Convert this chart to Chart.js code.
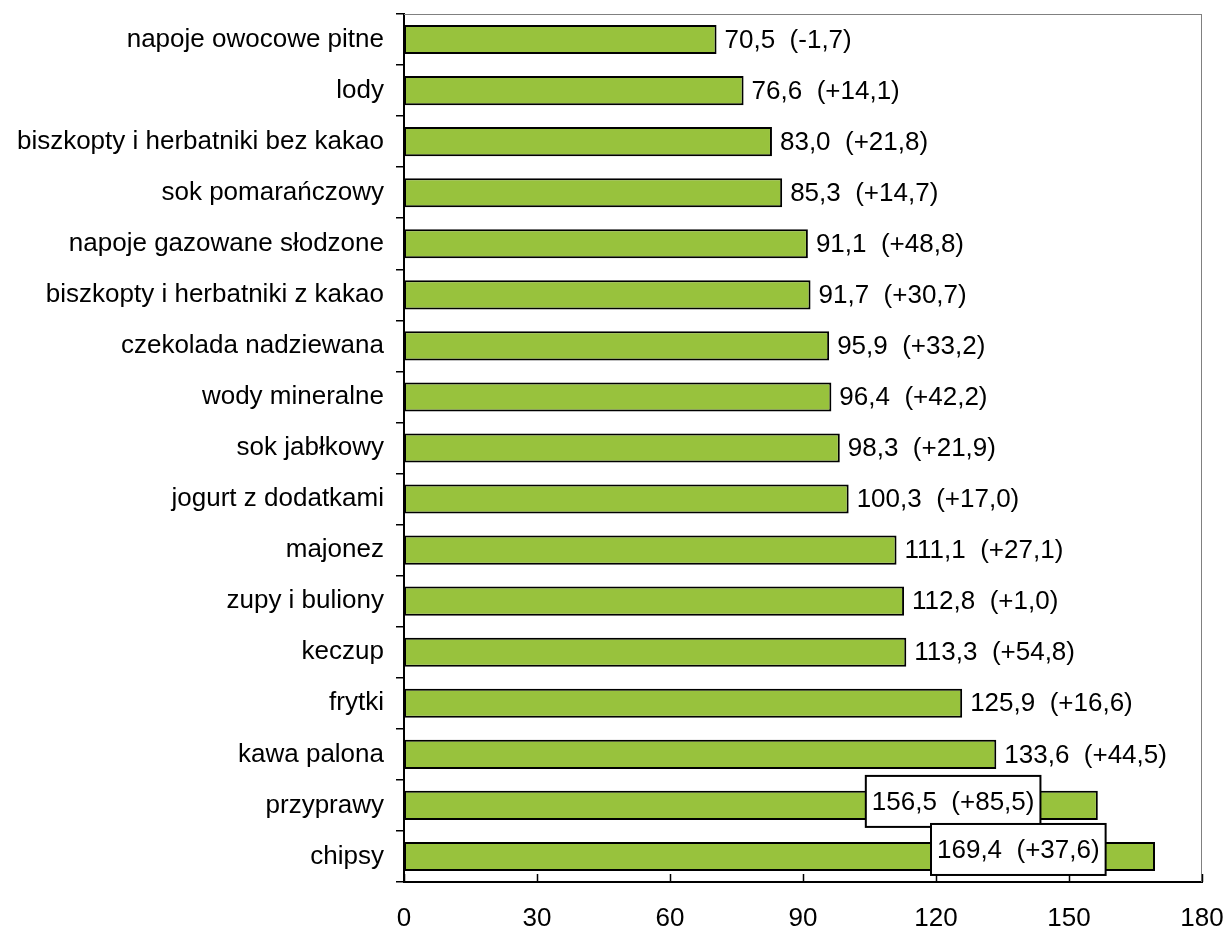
<!DOCTYPE html>
<html>
<head>
<meta charset="utf-8">
<script src="https://cdn.jsdelivr.net/npm/chart.js@4"></script>
<style>
  html, body { margin: 0; padding: 0; background: #fff; }
  canvas { display: block; }
</style>
</head>
<body>
<canvas id="chart" width="1226" height="930"></canvas>
<script>
const categories = [
  "napoje owocowe pitne", "lody", "biszkopty i herbatniki bez kakao",
  "sok pomarańczowy", "napoje gazowane słodzone", "biszkopty i herbatniki z kakao",
  "czekolada nadziewana", "wody mineralne", "sok jabłkowy", "jogurt z dodatkami",
  "majonez", "zupy i buliony", "keczup", "frytki", "kawa palona", "przyprawy", "chipsy"
];
const values = [70.5, 76.6, 83.0, 85.3, 91.1, 91.7, 95.9, 96.4, 98.3, 100.3,
  111.1, 112.8, 113.3, 125.9, 133.6, 156.5, 169.4];
const changes = [-1.7, 14.1, 21.8, 14.7, 48.8, 30.7, 33.2, 42.2, 21.9, 17.0,
  27.1, 1.0, 54.8, 16.6, 44.5, 85.5, 37.6];
const xTicks = [0, 30, 60, 90, 120, 150, 180];

const FONT = '"Liberation Sans", Arial, sans-serif';
const FS = 26;

function fmt(v) {
  return v.toFixed(1).replace(".", ",");
}
function labelText(i) {
  const c = changes[i];
  const sign = c < 0 ? "-" : "+";
  return fmt(values[i]) + "  (" + sign + fmt(Math.abs(c)) + ")";
}

// labels in boxes are shifted left from the bar end (px) and up
const boxed = { 15: { dx: -232, dy: -4 }, 16: { dx: -224, dy: -7 } };

const frameAndLabels = {
  id: "frameAndLabels",
  afterDatasetsDraw(chart) {
    const ctx = chart.ctx;
    const area = chart.chartArea;
    const xs = chart.scales.x;
    ctx.save();
    // top and right frame
    ctx.strokeStyle = "#808080";
    ctx.lineWidth = 1;
    ctx.beginPath();
    ctx.moveTo(area.left, area.top + 0.5);
    ctx.lineTo(area.right, area.top + 0.5);
    ctx.moveTo(area.right - 0.5, area.top);
    ctx.lineTo(area.right - 0.5, area.bottom);
    ctx.stroke();
    // x ticks pointing into the plot
    ctx.strokeStyle = "#000";
    ctx.lineWidth = 1.5;
    ctx.beginPath();
    xTicks.forEach(v => {
      const px = Math.round(xs.getPixelForValue(v)) + 0.5;
      ctx.moveTo(px, area.bottom);
      ctx.lineTo(px, area.bottom - 8);
    });
    ctx.stroke();

    // value labels
    ctx.font = FS + "px " + FONT;
    ctx.textBaseline = "middle";
    ctx.textAlign = "left";
    const meta = chart.getDatasetMeta(0);
    meta.data.forEach((bar, i) => {
      const text = labelText(i);
      const w = ctx.measureText(text).width;
      if (boxed[i]) {
        const bx = bar.x + boxed[i].dx;
        const by = bar.y + boxed[i].dy;
        const bw = w + 12, bh = 51;
        ctx.fillStyle = "#fff";
        ctx.fillRect(bx, by - bh / 2, bw, bh);
        ctx.strokeStyle = "#000";
        ctx.lineWidth = 2;
        ctx.strokeRect(bx, by - bh / 2, bw, bh);
        ctx.fillStyle = "#000";
        ctx.fillText(text, bx + 6, by + 1);
      } else {
        ctx.fillStyle = "#000";
        ctx.fillText(text, bar.x + 8, bar.y + 1);
      }
    });
    ctx.restore();
  }
};

new Chart(document.getElementById("chart").getContext("2d"), {
  type: "bar",
  data: {
    labels: categories,
    datasets: [{
      data: values,
      backgroundColor: "#98C23D",
      borderColor: "#000",
      borderWidth: 2,
      borderSkipped: false,
      barPercentage: 0.57,
      categoryPercentage: 1
    }]
  },
  options: {
    indexAxis: "y",
    responsive: false,
    animation: false,
    layout: { padding: { top: 14, right: 24, left: 0, bottom: 0 } },
    plugins: {
      legend: { display: false },
      tooltip: { enabled: false }
    },
    scales: {
      x: {
        min: 0,
        max: 180,
        afterFit(s) { s.height = 48; s.paddingLeft = 0; s.paddingRight = 0; },
        afterBuildTicks(s) { s.ticks = xTicks.map(v => ({ value: v })); },
        ticks: { font: { family: FONT, size: FS }, color: "#000", padding: 13, maxRotation: 0 },
        grid: { display: false },
        border: { color: "#000", width: 2 }
      },
      y: {
        afterFit(s) { s.width = 404; s.paddingTop = 0; s.paddingBottom = 0; },
        ticks: { font: { family: FONT, size: FS }, color: "#000", padding: 12 },
        grid: { offset: true, drawOnChartArea: false, drawTicks: true, tickLength: 8, color: "#000", lineWidth: 1.5 },
        border: { color: "#000", width: 2 }
      }
    }
  },
  plugins: [frameAndLabels]
});
</script>
</body>
</html>
